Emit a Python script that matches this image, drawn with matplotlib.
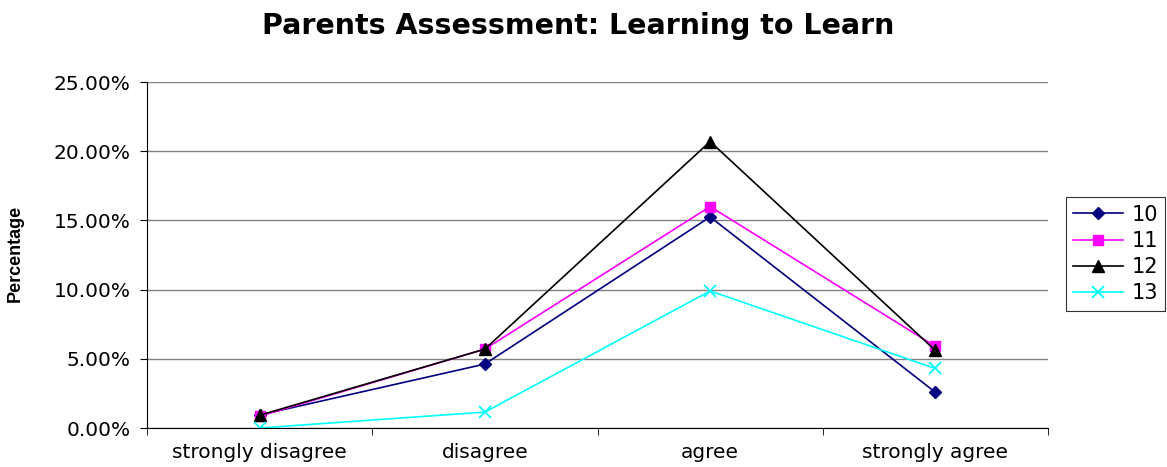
import matplotlib
matplotlib.use("Agg")
import matplotlib.pyplot as plt
from matplotlib.ticker import FuncFormatter, FixedLocator

plt.rcParams['font.family'] = ['DejaVu Sans']

categories = ["strongly disagree", "disagree", "agree", "strongly agree"]
series_names = ["10", "11", "12", "13"]
vals_10 = [0.0094, 0.0462, 0.1525, 0.0258]
vals_11 = [0.0085, 0.0570, 0.1600, 0.0590]
vals_12 = [0.0092, 0.0570, 0.2070, 0.0560]
vals_13 = [0.0000, 0.0115, 0.0990, 0.0430]

fig = plt.figure(figsize=(11.67, 4.67), dpi=100)
ax = fig.add_axes([147/1167, 1 - 428/467, (1048-147)/1167, (428-82)/467])

x = list(range(len(categories)))
ax.plot(x, vals_10, color="#000080", marker="D", markersize=6, lw=1.2, label=series_names[0])
ax.plot(x, vals_11, color="#FF00FF", marker="s", markersize=7, lw=1.2, label=series_names[1])
ax.plot(x, vals_12, color="#000000", marker="^", markersize=8, lw=1.2, label=series_names[2])
ax.plot(x, vals_13, color="#00FFFF", marker="x", markersize=8, mew=1.3, lw=1.2, label=series_names[3])

ax.set_xlim(-0.5, 3.5)
ax.set_ylim(0, 0.25)
ax.set_yticks([0, 0.05, 0.10, 0.15, 0.20, 0.25])
ax.yaxis.set_major_formatter(FuncFormatter(lambda v, p: f"{v*100:.2f}%"))
ax.yaxis.grid(True, color="#808080", lw=1)
ax.set_axisbelow(True)

ax.set_xticks(x)
ax.set_xticklabels(categories)
ax.tick_params(axis="x", length=0, labelsize=14.5, pad=11)
ax.xaxis.set_minor_locator(FixedLocator([-0.5, 0.5, 1.5, 2.5, 3.5]))
ax.tick_params(axis="x", which="minor", length=5, direction="out")
ax.tick_params(axis="y", length=5, direction="out", labelsize=14.5, pad=7)

for s in ["top", "right"]:
    ax.spines[s].set_visible(False)
ax.spines["left"].set_color("black")
ax.spines["bottom"].set_color("black")

fig.text(15/1167, 1 - 253/467, "Percentage", rotation=90, ha="center", va="center",
         fontsize=13, fontweight="bold", family=["Liberation Sans", "DejaVu Sans"])
fig.suptitle("Parents Assessment: Learning to Learn", fontsize=20.5, fontweight="bold",
             x=578/1167, y=0.975)

leg = ax.legend(loc="center left", bbox_to_anchor=(1066/1167, 1 - 254/467), bbox_transform=fig.transFigure,
                frameon=True, fancybox=False, edgecolor="black", fontsize=15, handlelength=2.4,
                borderpad=0.35, labelspacing=0.3, handletextpad=0.4, borderaxespad=0)
leg.get_frame().set_linewidth(0.8)

fig.savefig("out.png", dpi=100)
